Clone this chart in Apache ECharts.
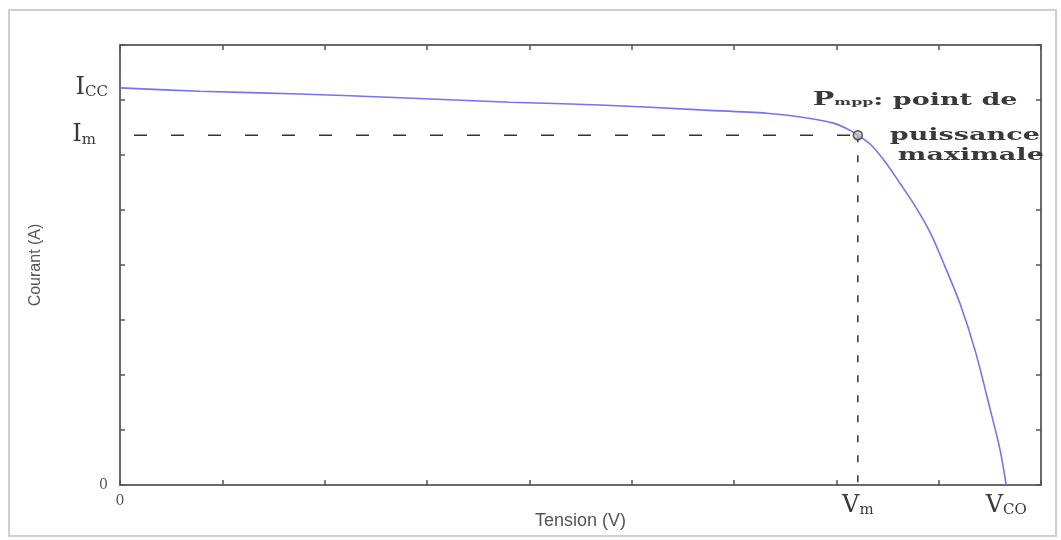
<!DOCTYPE html>
<html>
<head>
<meta charset="utf-8">
<script src="https://cdn.jsdelivr.net/npm/echarts@6/dist/echarts.min.js"></script>
<style>
html,body{margin:0;padding:0;background:#fff;}
#chart{width:1061px;height:540px;}
</style>
</head>
<body>
<div id="chart"></div>
<script>
// ---- data ----
const voltage = [0, 0.78, 1.76, 2.74, 3.81, 4.69, 5.67, 6.32, 6.65, 6.97, 7.09, 7.21, 7.33, 7.48, 7.62, 7.77, 7.92, 8.06, 8.21, 8.36, 8.50, 8.60, 8.66];
const current = [7.22, 7.16, 7.11, 7.04, 6.96, 6.91, 6.82, 6.76, 6.69, 6.58, 6.49, 6.36, 6.20, 5.87, 5.49, 5.07, 4.58, 3.98, 3.29, 2.42, 1.40, 0.64, 0];
const Vm = 7.21, Im = 6.36, Icc = 7.22, Vco = 8.66;
const xLabelValues = [0, Vm, Vco];
const xLabelTexts = ['{z|0}', '{v|V}{s|m}', '{v|V}{s|CO}'];
const yLabelValues = [0, Im, Icc];
const yLabelTexts = ['{z|0}', '{v|I}{sm|m}', '{v|I}{s|CC}'];
const annotationLines = ['{P|P}{m|mpp}{t|: point de}', 'puissance', 'maximale'];
const xName = 'Tension (V)';
const yName = 'Courant (A)';

const serif = '"DejaVu Serif", "Liberation Serif", serif';
const sans = '"Liberation Sans", Arial, sans-serif';
const axisColor = '#6b6b6b';
const textColor = '#3a3a3a';

function pick(values, texts, v) {
  let best = 0;
  for (let i = 1; i < values.length; i++) {
    if (Math.abs(values[i] - v) < Math.abs(values[best] - v)) best = i;
  }
  return texts[best];
}

const richLabels = {
  z: {fontFamily: serif, fontSize: 14, color: '#555'},
  v: {fontFamily: serif, fontSize: 24, color: textColor, verticalAlign: 'bottom'},
  s: {fontFamily: serif, fontSize: 15, color: textColor, verticalAlign: 'bottom'},
  sm: {fontFamily: serif, fontSize: 15, color: textColor, verticalAlign: 'bottom', padding: [0, 12, 0, 0]}
};

const chart = echarts.init(document.getElementById('chart'), null, {renderer: 'canvas'});
const tickStyle = {show: true, inside: true, length: 5, lineStyle: {color: '#555', width: 1.5}};
const lineStyleAxis = {show: true, onZero: false, lineStyle: {color: axisColor, width: 2}};

chart.setOption({
  animation: false,
  backgroundColor: '#fff',
  grid: {left: 120, right: 20, top: 45, bottom: 55, containLabel: false, outerBoundsMode: 'none'},
  xAxis: [{
    type: 'value', min: 0, max: 9, interval: 1, position: 'bottom',
    axisLine: lineStyleAxis, axisTick: tickStyle, splitLine: {show: false},
    axisLabel: {
      customValues: xLabelValues, margin: 9,
      formatter: v => pick(xLabelValues, xLabelTexts, v),
      rich: richLabels
    },
    name: xName, nameLocation: 'middle', nameGap: 27, nameMoveOverlap: false,
    nameTextStyle: {fontFamily: sans, fontSize: 18, color: '#555'}
  }, {
    type: 'value', min: 0, max: 9, interval: 1, position: 'top',
    axisLine: lineStyleAxis, axisTick: tickStyle, axisLabel: {show: false}, splitLine: {show: false}
  }],
  yAxis: [{
    type: 'value', min: 0, max: 8, interval: 1, position: 'left',
    axisLine: lineStyleAxis, axisTick: tickStyle, splitLine: {show: false},
    axisLabel: {
      customValues: yLabelValues, margin: 12,
      formatter: v => pick(yLabelValues, yLabelTexts, v),
      rich: richLabels
    },
    name: yName, nameLocation: 'middle', nameGap: 76, nameRotate: 90, nameMoveOverlap: false,
    nameTextStyle: {fontFamily: sans, fontSize: 16, color: '#555'}
  }, {
    type: 'value', min: 0, max: 8, interval: 1, position: 'right',
    axisLine: lineStyleAxis, axisTick: tickStyle, axisLabel: {show: false}, splitLine: {show: false}
  }],
  graphic: [{
    id: 'frame', type: 'rect', silent: true,
    shape: {x: 9, y: 10, width: 1047, height: 526},
    style: {fill: 'none', stroke: '#cfcfcf', lineWidth: 2}
  }],
  series: [{
    type: 'line', name: 'I-V',
    data: voltage.map((v, i) => [v, current[i]]),
    showSymbol: false, smooth: 0.3,
    lineStyle: {color: '#7474ee', width: 1.6}, z: 3
  }, {
    type: 'line', data: [[0, Im], [Vm, Im]], symbol: 'none',
    lineStyle: {color: '#333', width: 1.5, type: [13, 24], dashOffset: -14}, z: 2
  }, {
    type: 'line', data: [[Vm, Im], [Vm, 0]], symbol: 'none',
    lineStyle: {color: '#333', width: 1.5, type: [7, 13]}, z: 2
  }, {
    type: 'scatter', data: [[Vm, Im]], symbol: 'circle', symbolSize: 9,
    itemStyle: {color: '#bdbdbd', borderColor: '#333', borderWidth: 1.5}, z: 4
  }]
});

// annotation placed relative to the Pmpp point
const pt = chart.convertToPixel({xAxisIndex: 0, yAxisIndex: 0}, [Vm, Im]);
const annSize = 17;
const cv = document.createElement('canvas').getContext('2d');
cv.font = 'bold ' + annSize + 'px "DejaVu Serif"';
const sx = 150 / cv.measureText('puissance').width;
const annStyle = {fontFamily: serif, fontWeight: 'bold', fontSize: annSize, fill: textColor, align: 'left', verticalAlign: 'bottom'};
const offsets = [[-45, -26], [32, 9], [40, 29]];
chart.setOption({
  graphic: annotationLines.map((t, i) => ({
    id: 'ann' + i, type: 'text', silent: true, z: 10,
    x: pt[0] + offsets[i][0], y: pt[1] + offsets[i][1], scaleX: sx,
    style: Object.assign({}, annStyle, {
      text: t,
      rich: {
        P: {fontFamily: serif, fontWeight: 'bold', fontSize: annSize + 1, fill: textColor, verticalAlign: 'bottom'},
        m: {fontFamily: serif, fontWeight: 'bold', fontSize: 10, fill: textColor, verticalAlign: 'bottom', padding: [0, 0, 2, 0]},
        t: {fontFamily: serif, fontWeight: 'bold', fontSize: annSize, fill: textColor, verticalAlign: 'bottom'}
      }
    })
  }))
});
</script>
</body>
</html>
